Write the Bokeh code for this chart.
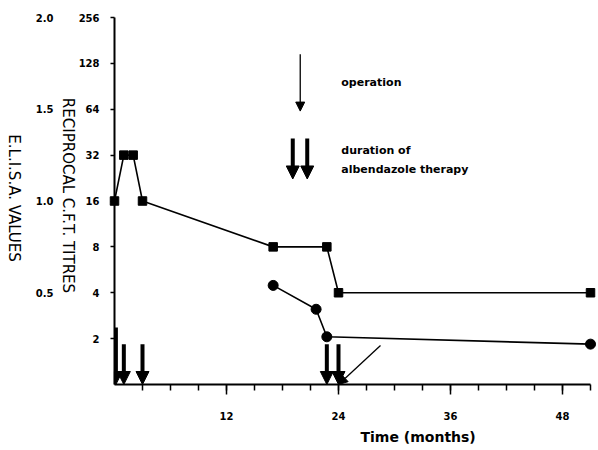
import math
from bokeh.plotting import figure
from bokeh.models import (Range1d, LinearAxis, LinearScale, FixedTicker, Arrow,
                          NormalHead, Label, Title, PrintfTickFormatter)
from bokeh.core.properties import value
from bokeh.embed import file_html
from bokeh.resources import INLINE

# ---- data ----
cft_months = [0, 1, 2, 3, 17, 22.75, 24, 51]
cft_titres = [16, 32, 32, 16, 8, 8, 4, 4]
elisa_months = [17, 21.6, 22.75, 51]
elisa_values = [0.54, 0.41, 0.26, 0.22]
therapy_months = [0.15, 1, 3, 22.75, 24]
therapy_tops = [0.31, 0.22, 0.22, 0.22, 0.22]   # ELISA-scale height of arrow tails
operation_month = 24
cft_ticks = [2, 4, 8, 16, 32, 64, 128, 256]
elisa_ticks = [0.5, 1.0, 1.5, 2.0]
time_ticks = [12, 24, 36, 48]
time_minor = list(range(3, 52, 3))

TICK_FONT = "DejaVu Sans"
TEXT_FONT = "DejaVu Sans"

p = figure(width=598, height=450, output_backend="svg", toolbar_location=None,
           x_range=Range1d(0, 51), y_range=Range1d(1, 256), y_axis_type="log",
           min_border_left=114, min_border_right=8, min_border_top=17,
           min_border_bottom=66, outline_line_color=None)
p.extra_y_ranges = {"elisa": Range1d(0, 2)}
p.extra_y_scales = {"elisa": LinearScale()}
p.grid.visible = False
p.background_fill_color = "white"
p.border_fill_color = "white"

def style_labels(ax):
    ax.major_label_text_font = TICK_FONT
    ax.major_label_text_font_style = "bold"
    ax.major_label_text_font_size = "10px"
    ax.major_label_text_color = "black"

# x axis
xa = p.xaxis[0]
xa.ticker = FixedTicker(ticks=time_ticks, minor_ticks=time_minor)
xa.axis_line_width = 2
xa.major_tick_out = 10
xa.major_tick_in = 0
xa.minor_tick_out = 6
xa.minor_tick_in = 0
xa.major_tick_line_width = 1.5
xa.minor_tick_line_width = 1.5
xa.major_label_standoff = 17
style_labels(xa)

# CFT (log) axis
ya = p.yaxis[0]
ya.ticker = FixedTicker(ticks=cft_ticks, minor_ticks=[])
ya.formatter = PrintfTickFormatter(format="%d")
ya.axis_line_width = 2
ya.major_tick_out = 4
ya.major_tick_in = 0
ya.major_tick_line_width = 1.5
ya.minor_tick_line_color = None
ya.major_label_standoff = 11
style_labels(ya)

# ELISA axis (outer)
ea = LinearAxis(y_range_name="elisa", ticker=FixedTicker(ticks=elisa_ticks, minor_ticks=[]),
                formatter=PrintfTickFormatter(format="%.1f"))
ea.axis_line_color = None
ea.major_tick_line_color = None
ea.minor_tick_line_color = None
ea.major_tick_out = 0
ea.major_tick_in = 0
ea.major_label_standoff = 22
style_labels(ea)
p.add_layout(ea, "left")

# x axis title, placed off-centre like the reference
t = Title(text="Time (months)", align="left", offset=246, standoff=8,
          text_font=TEXT_FONT, text_font_size="14px", text_font_style="bold",
          text_color="black")
if "padding" in t.properties():
    t.padding = 0
p.add_layout(t, "below")

# y axis titles: text glyphs at overlay level (not clipped), reading top to bottom
p.text(x=[-4.93, -10.82], y=[1.03, 1.003],
       text=["RECIPROCAL C.F.T. TITRES", "E.L.I.S.A.  VALUES"],
       angle=-math.pi / 2, text_align="center", text_baseline="middle",
       text_font=value(TEXT_FONT), text_font_size="15px", text_color="black",
       y_range_name="elisa", level="overlay")

# series (overlay level so edge markers are not clipped by the frame)
p.line(cft_months, cft_titres, line_color="black", line_width=1.6, level="overlay")
p.scatter(cft_months, cft_titres, marker="square", size=8.5, color="black", level="overlay")
p.line(elisa_months, elisa_values, line_color="black", line_width=1.6,
       y_range_name="elisa", level="overlay")
p.scatter(elisa_months, elisa_values, marker="circle", size=10, color="black",
          y_range_name="elisa", level="overlay")

# therapy arrows
for m, top in zip(therapy_months, therapy_tops):
    p.add_layout(Arrow(x_start=m, y_start=top, x_end=m, y_end=0.0, y_range_name="elisa",
                       line_width=4, line_color="black",
                       end=NormalHead(size=13, fill_color="black", line_color="black")))

# operation arrow at bottom
p.add_layout(Arrow(x_start=operation_month + 4.5, y_start=0.213, x_end=operation_month, y_end=0.0,
                   y_range_name="elisa", line_width=1.3, line_color="black",
                   end=NormalHead(size=9, fill_color="black", line_color="black")))

# legend arrows
p.add_layout(Arrow(x_start=19.9, y_start=1.80, x_end=19.9, y_end=1.49, y_range_name="elisa",
                   line_width=1.3, line_color="black",
                   end=NormalHead(size=9, fill_color="black", line_color="black")))
for lx in [19.1, 20.65]:
    p.add_layout(Arrow(x_start=lx, y_start=1.34, x_end=lx, y_end=1.12, y_range_name="elisa",
                       line_width=4, line_color="black",
                       end=NormalHead(size=13, fill_color="black", line_color="black")))

def lbl(text, x, y, **kw):
    d = dict(text_font=TEXT_FONT, text_font_size="11px", text_font_style="bold",
             text_color="black", text_baseline="middle")
    d.update(kw)
    p.add_layout(Label(text=text, x=x, y=y, y_range_name="elisa", **d))

lbl("operation", 24.3, 1.645)
lbl("duration of", 24.3, 1.275)
lbl("albendazole therapy", 24.3, 1.17)

open("out.html", "w").write(file_html(p, INLINE))
